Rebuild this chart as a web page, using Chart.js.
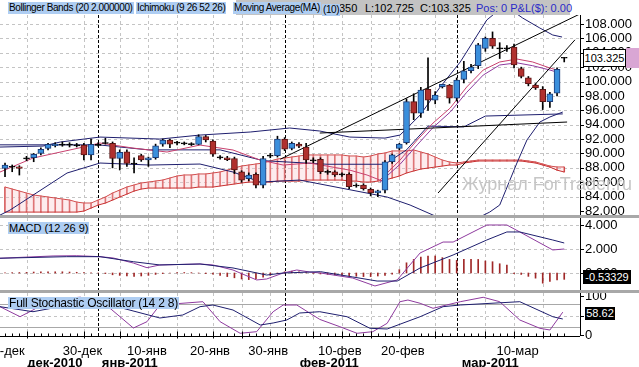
<!DOCTYPE html>
<html>
<head>
<meta charset="utf-8">
<script src="https://cdn.jsdelivr.net/npm/chart.js@4.4.0/dist/chart.umd.min.js"></script>
<style>
  body { margin: 0; width: 639px; height: 367px; background: #fff; position: relative; overflow: hidden;
         font-family: "Liberation Sans", Arial, sans-serif; }
  canvas { position: absolute; left: 0; }
  .sep { position: absolute; left: 0; width: 639px; height: 3px; background: #a8a8a8; }
  .lbl { position: absolute; font-size: 10px; line-height: 12px; letter-spacing: -0.4px; background: #aecdf2; padding: 0 1px; white-space: nowrap; }
  .hdr { position: absolute; top: 1px; font-size: 11px; line-height: 14px; white-space: nowrap; }
  .box { position: absolute; font-size: 11px; line-height: 14px; white-space: nowrap; text-align: center; }
</style>
</head>
<body>
<div style="position:absolute;left:236px;top:0;width:334px;height:15px;background:#c3c3c3"></div>
<span class="hdr" style="left:339px">350</span>
<span class="hdr" style="left:365px">L:102.725</span>
<span class="hdr" style="left:420px">C:103.325</span>
<span class="hdr" style="left:476px;color:#2a2ac8">Pos: 0 P&amp;L($): 0.00</span>
<span class="lbl" style="left:8px;top:2px">Bollinger Bands (20 2.000000)</span>
<span class="lbl" style="left:136px;top:2px">Ichimoku (9 26 52 26)</span>
<span class="lbl" style="left:233px;top:2px">Moving Average(MA)</span>
<span class="lbl" style="left:322px;top:4px">(10)</span>

<canvas id="main" width="639" height="200" style="top:15px;width:639px;height:200px"></canvas>
<div class="sep" style="top:215px"></div>
<canvas id="macd" width="639" height="72" style="top:218px;width:639px;height:72px"></canvas>
<div class="sep" style="top:290px"></div>
<canvas id="stoch" width="639" height="74" style="top:293px;width:639px;height:74px"></canvas>

<span class="lbl" style="left:8px;top:222px;font-size:11px;letter-spacing:0;line-height:12px">MACD (12 26 9)</span>
<span class="lbl" style="left:8px;top:297px;font-size:12px;letter-spacing:-0.2px;line-height:12px">Full Stochastic Oscillator (14 2 8)</span>
<div style="position:absolute;left:462px;top:174px;font-size:18px;color:#c6c6c6;white-space:nowrap">Журнал ForTrader.ru</div>
<div class="box" style="left:583px;top:49px;width:41px;height:16px;border:1px solid #000;background:#fff;line-height:16px">103.325</div>
<div style="position:absolute;left:626px;top:48px;width:13px;height:20px;background:#d9a6d4"></div>
<div class="box" style="left:583px;top:270px;width:48px;height:14px;background:#000;color:#fff">-0.53329</div>
<div class="box" style="left:585px;top:307px;width:30px;height:13px;line-height:13px;background:#000;color:#fff">58.62</div>

<script>
// ---- price candles (one per bar) ----
const opens  = [87.93,88.15,88.15,89.32,89.4,90.0,90.71,91.1,91.2,91.25,91.1,91.17,89.8,91.2,91.45,91.4,89.3,90.24,88.6,89.7,
                89.1,89.4,91.3,91.87,91.5,91.4,91.3,91.27,92.33,91.73,89.5,89.4,89.3,87.46,86.5,87.1,85.6,89.7,89.7,92.0,
                90.7,91.3,90.9,89.1,89.2,87.5,87.46,87.1,87.1,85.5,85.6,85.0,84.5,84.9,88.85,90.7,91.5,97.2,95.6,98.9,
                97.4,99.3,99.5,97.7,100.3,101.5,102.2,104.6,106.0,104.6,104.6,104.8,101.8,100.5,99.5,98.9,97.2,98.4,103.3];
const highs  = [88.67,88.4,88.3,89.6,90.0,90.8,91.4,91.5,91.6,91.5,91.4,91.4,92.0,91.5,92.1,91.6,90.5,90.5,89.4,89.9,
                89.5,91.3,92.0,92.0,91.7,91.6,91.5,92.6,92.5,91.9,89.7,89.6,89.5,87.6,87.3,87.3,89.6,90.0,92.4,92.2,
                91.6,91.5,91.4,89.4,89.4,87.7,87.6,87.3,87.3,85.8,85.8,85.2,84.9,89.0,89.9,91.4,97.6,98.3,99.2,103.3,
                98.6,99.6,99.6,100.5,102.8,102.4,105.3,106.2,106.9,105.4,105.0,105.2,102.0,100.7,99.7,99.3,98.5,101.9,103.35];
const lows   = [86.76,87.46,87.0,89.0,88.85,89.8,90.5,90.9,91.0,90.9,90.9,89.1,89.1,91.0,91.3,88.0,87.7,88.2,87.3,88.9,
                88.2,89.2,91.0,90.8,91.2,91.2,91.1,91.2,91.6,89.6,89.2,89.0,87.2,86.0,86.2,85.2,85.2,89.4,89.5,90.4,
                90.5,90.8,88.6,88.7,87.2,87.1,86.8,86.8,85.1,85.3,84.9,84.1,84.0,84.5,88.6,90.5,91.3,94.7,95.0,96.0,
                96.9,99.1,97.0,97.3,99.8,101.2,101.8,104.2,104.6,103.2,104.2,101.9,100.5,99.4,98.9,96.1,96.4,98.0,102.725];
const closes = [88.39,88.15,87.93,89.32,89.87,90.57,91.27,91.3,91.25,91.2,91.15,89.8,91.27,91.2,91.45,89.3,90.16,88.63,88.6,89.1,
                89.4,91.07,91.87,91.3,91.5,91.4,91.3,92.33,91.87,89.9,89.4,89.15,87.7,86.3,87.0,85.6,89.3,89.7,92.0,90.6,
                91.4,91.0,89.1,89.0,87.46,87.4,87.0,87.1,85.4,85.6,85.1,84.5,84.8,88.85,89.8,91.3,97.2,95.6,98.8,97.4,
                98.1,99.6,97.7,100.2,101.5,102.0,105.1,106.0,104.9,104.6,104.6,102.3,100.7,99.7,99.1,97.2,98.3,101.7,103.325];

// ---- Ichimoku cloud (senkou A / senkou B per bar) ----
const spanA = [85.33,85.05,84.77,84.49,84.22,84.08,83.94,83.80,83.66,83.52,83.24,83.10,83.10,83.52,83.94,84.49,84.91,85.33,85.61,85.89,
               86.02,86.16,86.30,86.58,86.86,87.0,87.0,87.14,87.14,87.28,87.42,87.68,87.97,88.25,88.39,88.53,88.67,88.95,89.22,89.36,
               89.5,89.64,89.78,89.78,89.78,89.78,89.78,89.78,89.64,89.64,89.5,89.64,89.92,90.06,90.34,90.34,90.34,90.48,90.20,89.92,
               89.5,89.08,88.81,88.67,88.81,88.95,89.08,89.08,89.08,89.08,89.08,89.08,89.08,88.95,88.81,88.53,88.25,88.11,88.11];
const spanB = [81.85,81.85,81.85,81.85,81.85,81.85,81.85,81.85,81.85,81.85,81.85,81.99,82.41,82.83,83.10,83.52,83.94,84.35,84.77,85.05,
               85.19,85.19,85.19,85.19,85.19,85.19,85.19,85.33,85.33,85.33,85.47,85.61,85.75,85.89,86.02,86.02,86.02,86.02,86.16,86.16,
               86.16,86.16,86.30,86.30,86.30,86.30,86.30,86.30,86.16,86.16,86.02,86.02,86.16,86.30,86.58,86.86,87.28,87.56,87.83,87.97,
               88.11,88.25,88.39,88.39,88.67,88.81,88.95,88.95,88.95,88.95,88.95,88.95,88.95,88.81,88.67,88.39,88.11,87.68,87.42];

// ---- overlay lines as [bar, value] ----
const bbUpper = [[-0.7,90.89],[5.3,91.03],[7.7,91.59],[13.25,92.28],[21.6,92.0],[27.2,92.56],[34.2,92.98],[39.7,93.54],[43.9,93.12],
                 [48.1,92.28],[53.0,92.14],[55.1,92.56],[57.9,95.34],[60.7,99.24],[63.5,102.72],[67.2,108.56],[69.7,110.6],
                 [72.2,108.83],[74.6,107.44],[76.4,106.47],[77.7,106.19]];
const bbLower = [[-0.7,81.43],[0.7,82.13],[8.65,87.28],[13.25,88.67],[20.2,88.39],[27.2,88.53],[31.8,87.42],[35.6,86.02],[41.1,86.3],
                 [50.5,84.49],[53.3,83.94],[56.5,82.83],[60.7,81.0],[64.9,80.5],[67.6,81.85],[69.0,82.83],[71.4,88.67],[72.8,91.87],
                 [74.6,94.37],[76.0,95.07],[77.8,95.76]];
const kijun   = [[-0.7,91.2],[13,91.2],[20,90.5],[30,90.5],[36,89.0],[45,88.5],[53,88.5],[56,90.5],[59,93.8],[64,93.7],[67,95.2],[77.8,95.5]];
const ma10    = [[-0.7,87.42],[3.9,89.36],[10.9,90.89],[13.25,91.45],[17.85,90.75],[22.6,90.2],[27.2,91.17],[31.8,90.48],[35.6,89.08],
                 [38.8,88.39],[42.5,88.67],[48.1,87.68],[50.5,87.0],[52.3,86.3],[55.1,89.08],[57.5,91.87],[59.7,94.23],[62.1,96.32],
                 [64.4,99.24],[66.7,101.6],[69.0,102.72],[71.4,103.13],[73.6,102.72],[76.0,101.88],[77.0,101.6]];
const tenkan  = [[52.3,86.0],[55.1,88.5],[57.5,91.2],[59.7,93.6],[62.1,95.76],[64.4,98.5],[66.7,100.9],[69.0,102.3],[71.4,102.6],
                 [73.6,102.2],[76.0,101.6],[77.0,101.3]];
const trend1  = [[38.4,89.2],[80.2,109.4]];
const trend2  = [[60.4,84.5],[79.5,105.8]];
const trend3  = [[43.9,92.84],[78.4,94.37]];

// ---- MACD panel ----
const macdLine = [[-0.7,1.23],[6.7,1.42],[10.0,1.44],[13.25,1.36],[15.1,1.25],[17.9,0.83],[19.8,0.44],[21.6,0.67],[27.2,0.75],[29.0,0.67],
                  [31.8,0.25],[35.1,-0.58],[36.5,-0.5],[38.8,0],[40.7,0.25],[42.5,0.08],[44.0,0],[48.5,-0.42],[51.6,-1.08],[54.7,-0.58],
                  [57.9,1.67],[61.1,2.58],[62.5,2.58],[67.2,4.0],[70.0,4.0],[71.8,3.42],[76.4,1.92],[78,2.0]];
const signalLine = [[-0.7,1.23],[8.6,1.36],[13.25,1.36],[17.9,0.94],[21.6,0.67],[27.2,0.75],[31.8,0.42],[36.5,-0.17],[38.8,0],[44.0,0.11],
                    [48.5,-0.33],[51.9,-0.67],[54.7,-0.67],[57.9,0.42],[62.5,1.5],[67.2,2.75],[70.0,3.42],[71.8,3.42],[76.4,2.75],[78,2.5]];
const macdHist = [0.02,0.03,0.04,0.05,0.08,0.1,0.1,0.1,0.1,0.08,0.06,0.04,0.02,0,-0.05,-0.15,-0.2,-0.25,-0.28,-0.25,
                  -0.2,-0.12,-0.05,0,0.03,0.04,0.03,0,-0.05,-0.1,-0.2,-0.3,-0.4,-0.5,-0.55,-0.5,-0.35,-0.2,-0.05,0.1,
                  0.15,0.1,0.03,-0.03,-0.08,-0.12,-0.16,-0.2,-0.24,-0.27,-0.3,-0.3,-0.25,-0.2,-0.1,0.28,0.85,1.13,1.33,1.42,
                  1.42,1.28,1.13,1.05,1.13,1.13,1.13,1.0,0.94,0.77,0.65,-0.05,-0.12,-0.28,-0.43,-0.85,-0.71,-0.57,-0.53];

// ---- Stochastic panel ----
const stochK = [[-0.7,72.6],[2.1,46.9],[3.9,64.1],[6.3,89.7],[10.5,97],[14.6,69.2],[17.9,17.9],[19.8,34.1],[21.6,76.9],[27.6,85.4],
                [30.0,34.1],[32.8,4.4],[35.1,8.5],[37.4,59.7],[38.8,76.9],[40.7,76.9],[43.9,40],[46.7,21.3],[49.1,4.4],[51.3,8.5],
                [53.3,30.0],[55.1,85.4],[56.2,89.7],[57.9,81.3],[59.7,68.5],[61.6,76.9],[63.5,85.4],[66.7,96.7],[69.0,85.4],[71.8,38.5],
                [74.6,17.2],[76.0,12.8],[77.8,58.6]];
const stochD = [[-0.7,72.6],[3.9,59.7],[6.7,69.2],[10.5,80],[15.6,72.6],[21.6,43.6],[24.8,51.3],[27.2,72.6],[29.0,76.9],[31.8,64.1],
                [35.6,25.6],[37.4,30.8],[39.3,38.5],[41.1,56.4],[43.9,59.7],[47.7,46.9],[50.9,17.2],[53.3,15.4],[57.9,46.9],[61.1,72.6],
                [63.5,76.9],[71.8,85.4],[76.4,46.9],[77.8,41.0]];

// ---- time axis ----
const gridDays    = [3, 11, 16, 20, 24, 29, 33, 37, 43, 47, 51, 55, 60, 67, 71, 75];
const monthStarts = [13, 39, 63];
const dayLabels   = ['20-дек', '30-дек', '10-янв', '20-янв', '30-янв', '10-фев', '20-фев', '10-мар'];
const dayLabelAt  = [0, 10.8, 19.8, 28.6, 36.7, 46.7, 55.5, 71.5];
const monthLabels = ['дек-2010', 'янв-2011', 'фев-2011', 'мар-2011'];
const monthLabelAt = [3.1, 13.5, 41.1, 63.7];

const priceTicks = [82, 84, 86, 88, 90, 92, 94, 96, 98, 100, 102, 104, 106, 108];
const macdTicks  = [0, 2, 4];
const stochTicks = [0, 100];

const FONT = '"Liberation Sans", Arial, sans-serif';
const NAVY = '#1e1e6e', PURPLE = '#8e3a9e', PINK = '#c8406e', RED = '#c83030';
const X_MIN = -0.7, X_MAX = 80.2;

const pts = arr => arr.map(([x, y]) => ({ x, y }));
const line = (data, color, order, extra) => Object.assign({
  type: 'line', data: pts(data), borderColor: color, borderWidth: 1, pointRadius: 0, tension: 0, fill: false, order
}, extra || {});

function hline(ctx, x1, y1, x2, y2) { ctx.beginPath(); ctx.moveTo(x1, y1); ctx.lineTo(x2, y2); ctx.stroke(); }

const decor = {
  id: 'decor',
  beforeDatasetsDraw(chart, args, o) {
    const { ctx, chartArea: a, scales: { x, y } } = chart;
    ctx.save();
    ctx.lineWidth = 1;
    ctx.strokeStyle = '#c4c4c4';
    ctx.setLineDash([3, 3]);
    (o.hDash || []).forEach(v => { const py = Math.round(y.getPixelForValue(v)) + 0.5; hline(ctx, a.left, py, a.right, py); });
    gridDays.forEach(d => { const px = Math.round(x.getPixelForValue(d)) + 0.5; hline(ctx, px, a.top, px, a.bottom); });
    ctx.setLineDash([]);
    ctx.strokeStyle = '#a8a8a8';
    (o.hSolid || []).forEach(v => { const py = Math.round(y.getPixelForValue(v)) + 0.5; hline(ctx, a.left, py, a.right, py); });
    ctx.strokeStyle = '#000';
    ctx.setLineDash([3, 2]);
    monthStarts.forEach(d => { const px = Math.round(x.getPixelForValue(d)) + 0.5; hline(ctx, px, a.top, px, a.bottom); });
    ctx.restore();
  },
  afterDraw(chart, args, o) {
    const { ctx, chartArea: a, scales: { x, y } } = chart;
    ctx.save();
    ctx.strokeStyle = '#000';
    ctx.lineWidth = 1;
    hline(ctx, a.right + 0.5, a.top, a.right + 0.5, a.bottom);
    (o.ticks || []).forEach(v => { const py = Math.round(y.getPixelForValue(v)) + 0.5; hline(ctx, a.right, py, a.right + 4, py); });
    if (o.timeAxis) {
      const by = a.bottom + 0.5;
      hline(ctx, a.left, by, a.right, by);
      opens.forEach((_, i) => { const px = Math.round(x.getPixelForValue(i)) + 0.5; hline(ctx, px, by - 3, px, by); });
      gridDays.forEach(d => { const px = Math.round(x.getPixelForValue(d)) + 0.5; hline(ctx, px, by - 5, px, by + 2); });
      ctx.fillStyle = '#000';
      ctx.textBaseline = 'middle';
      ctx.font = '13px ' + FONT;
      ctx.textAlign = 'center';
      dayLabels.forEach((t, i) => ctx.fillText(t, x.getPixelForValue(dayLabelAt[i]), a.bottom + 15));
      ctx.font = 'bold 13px ' + FONT;
      ctx.textAlign = 'left';
      monthLabels.forEach((t, i) => ctx.fillText(t, x.getPixelForValue(monthLabelAt[i]), a.bottom + 27));
    }
    ctx.restore();
  }
};

function options(yMin, yMax, ticks, fmt, decorOpts, bottomPad) {
  return {
    responsive: false, animation: false, events: [], devicePixelRatio: 1,
    layout: { padding: { left: 0, right: 0, top: 0, bottom: bottomPad || 0 } },
    plugins: { legend: { display: false }, tooltip: { enabled: false }, decor: decorOpts },
    scales: {
      x: { type: 'linear', min: X_MIN, max: X_MAX, display: false, offset: false },
      y: {
        position: 'right', min: yMin, max: yMax,
        afterFit: s => { s.width = 59; s.paddingTop = 0; s.paddingBottom = 0; },
        afterBuildTicks: s => { s.ticks = ticks.map(v => ({ value: v })); },
        grid: { display: false, drawTicks: false },
        border: { display: false },
        ticks: { color: '#000', font: { family: FONT, size: 13 }, padding: 5, autoSkip: false, callback: fmt }
      }
    }
  };
}

// candle bodies and wicks
const idx = opens.map((_, i) => i);
const isDoji = i => Math.abs(closes[i] - opens[i]) < 0.12;
const bodies = idx.map(i => {
  if (isDoji(i)) { const m = (opens[i] + closes[i]) / 2; return { x: i, y: [m - 0.07, m + 0.07] }; }
  return { x: i, y: [Math.min(opens[i], closes[i]), Math.max(opens[i], closes[i])] };
});
const bodyFill = idx.map(i => isDoji(i) ? '#000' : closes[i] > opens[i] ? '#3b8fdc' : '#b0302e');
const bodyLine = idx.map(i => isDoji(i) ? '#000' : closes[i] > opens[i] ? '#1d3c78' : '#5a1414');

new Chart(document.getElementById('main'), {
  type: 'bar',
  data: {
    datasets: [
      { type: 'bar', data: idx.map(i => ({ x: i, y: [spanB[i], spanA[i]] })), backgroundColor: '#d04848', barThickness: 1, grouped: false, order: 20 },
      line(idx.map(i => [i, spanA[i]]), RED, 19),
      line(idx.map(i => [i, spanB[i]]), RED, 18, { fill: { target: 1 }, backgroundColor: 'rgba(250,200,205,0.35)' }),
      line(bbUpper, NAVY, 10),
      line(bbLower, NAVY, 10),
      line(kijun, NAVY, 10),
      line(ma10, PINK, 9),
      line(tenkan, PURPLE, 9),
      line(trend1, '#000', 8),
      line(trend2, '#000', 8),
      line(trend3, '#000', 8),
      { type: 'bar', data: idx.map(i => ({ x: i, y: [lows[i], highs[i]] })), backgroundColor: '#000', barThickness: 1, grouped: false, order: 2 },
      { type: 'bar', data: bodies, backgroundColor: bodyFill, borderColor: bodyLine, borderWidth: 1, borderSkipped: false,
        barThickness: 6, grouped: false, order: 1 }
    ]
  },
  options: options(81.444, 109.251, priceTicks, v => v.toFixed(3),
    { hDash: [84, 86, 88, 90, 92, 94, 96, 98, 100, 102, 104, 106, 108], ticks: priceTicks }),
  plugins: [decor]
});

new Chart(document.getElementById('macd'), {
  type: 'bar',
  data: {
    datasets: [
      { type: 'bar', data: idx.map(i => ({ x: i, y: [0, macdHist[i]] })), backgroundColor: '#a02828', barThickness: 1, grouped: false, order: 5 },
      line(macdLine, PURPLE, 2),
      line(signalLine, NAVY, 1)
    ]
  },
  options: options(-1.417, 4.583, macdTicks, v => v.toFixed(3), { hDash: [0, 2, 4], ticks: macdTicks }),
  plugins: [decor]
});

new Chart(document.getElementById('stoch'), {
  type: 'line',
  data: { datasets: [line(stochK, PURPLE, 2), line(stochD, NAVY, 1)] },
  options: options(-2.56, 107.69, stochTicks, v => String(v),
    { hDash: [50], hSolid: [20, 80], ticks: [0, 50, 100], timeAxis: true }, 31),
  plugins: [decor]
});
</script>
</body>
</html>
